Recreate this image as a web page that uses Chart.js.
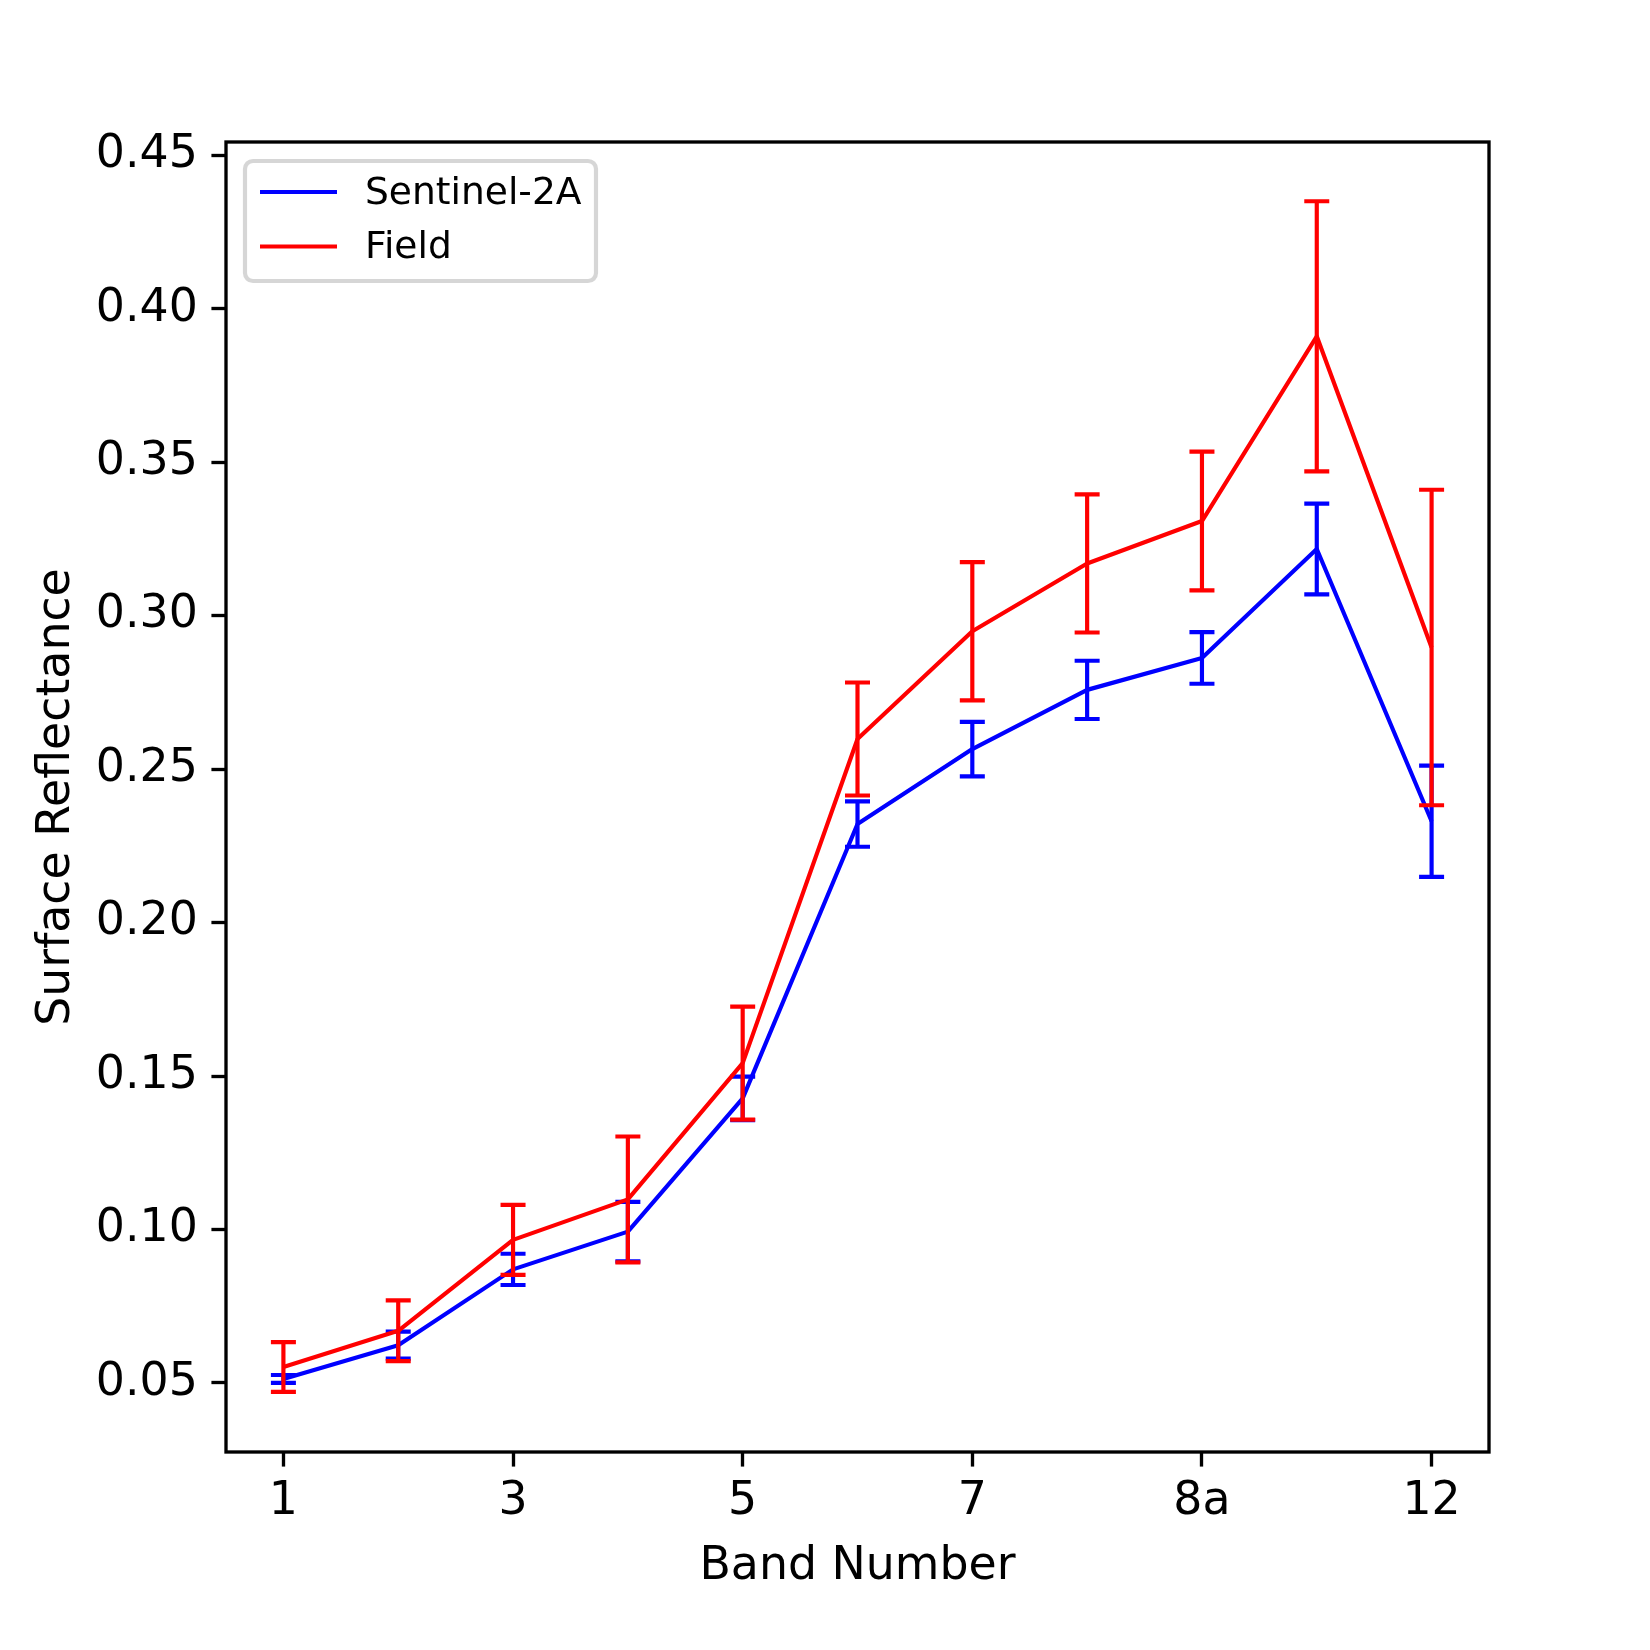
<!DOCTYPE html>
<html>
<head>
<meta charset="utf-8">
<script src="https://cdn.jsdelivr.net/npm/chart.js@4.4.1/dist/chart.umd.min.js"></script>
<style>
  html, body { margin: 0; padding: 0; background: #fff; }
  canvas { display: block; }
</style>
</head>
<body>
<canvas id="myChart" width="1650" height="1650"></canvas>
<script>
// band names along x, only every other one gets a label
var bands = ['1', '2', '3', '4', '5', '6', '7', '8', '8a', '11', '12'];
var xTickIdx = [0, 2, 4, 6, 8, 10];
var yTicks = [0.05, 0.10, 0.15, 0.20, 0.25, 0.30, 0.35, 0.40, 0.45];

var sentinel    = [0.0513, 0.0623, 0.0870, 0.0993, 0.1427, 0.2321, 0.2565, 0.2758, 0.2862, 0.3217, 0.2330];
var sentinelErr = [0.0013, 0.0044, 0.0051, 0.0097, 0.0071, 0.0074, 0.0089, 0.0095, 0.0084, 0.0148, 0.0181];
var field       = [0.0552, 0.0670, 0.0966, 0.1098, 0.1542, 0.2598, 0.2949, 0.3170, 0.3308, 0.3910, 0.2896];
var fieldErr    = [0.0081, 0.0099, 0.0114, 0.0205, 0.0184, 0.0184, 0.0225, 0.0225, 0.0226, 0.0440, 0.0514];

var yMin = 0.0275, yMax = 0.4543;

var PT = 300 / 72;
var FONT = 'DejaVu Sans';
var LABEL_SIZE = 45.8;
var LEGEND_SIZE = 37.6;

function pts(arr) {
    return arr.map(function (v, i) { return { x: i, y: v }; });
}

// vertical error bars with caps, drawn right after each dataset's line
var errorBars = {
    id: 'errorBars',
    afterDatasetDraw: function (chart, args) {
        var ds = chart.data.datasets[args.index];
        if (!ds.errors) return;
        var xs = chart.scales.x, ys = chart.scales.y;
        var c = chart.ctx;
        c.save();
        c.strokeStyle = ds.borderColor;
        c.lineWidth = 1 * PT;
        c.lineCap = 'butt';
        ds.data.forEach(function (p, i) {
            var px = xs.getPixelForValue(p.x);
            var top = ys.getPixelForValue(p.y + ds.errors[i]);
            var bot = ys.getPixelForValue(p.y - ds.errors[i]);
            c.beginPath();
            c.moveTo(px, top); c.lineTo(px, bot);
            c.moveTo(px - 3 * PT, top); c.lineTo(px + 3 * PT, top);
            c.moveTo(px - 3 * PT, bot); c.lineTo(px + 3 * PT, bot);
            c.stroke();
        });
        c.restore();
    }
};

// axes frame + legend box in the upper left
var frameAndLegend = {
    id: 'frameAndLegend',
    afterDatasetsDraw: function (chart) {
        var a = chart.chartArea;
        var c = chart.ctx;
        c.save();
        c.strokeStyle = '#000';
        c.lineWidth = 0.8 * PT;
        c.strokeRect(a.left, a.top, a.right - a.left, a.bottom - a.top);

        var lx = a.left + 19, ly = a.top + 19, lw = 351, lh = 120, r = 8;
        c.beginPath();
        c.moveTo(lx + r, ly);
        c.arcTo(lx + lw, ly, lx + lw, ly + lh, r);
        c.arcTo(lx + lw, ly + lh, lx, ly + lh, r);
        c.arcTo(lx, ly + lh, lx, ly, r);
        c.arcTo(lx, ly, lx + lw, ly, r);
        c.closePath();
        c.fillStyle = 'rgba(255,255,255,0.8)';
        c.fill();
        c.strokeStyle = 'rgba(204,204,204,0.8)';
        c.lineWidth = 1 * PT;
        c.stroke();

        c.font = LEGEND_SIZE + 'px "' + FONT + '"';
        c.textBaseline = 'middle';
        c.textAlign = 'left';
        chart.data.datasets.forEach(function (ds, i) {
            var rowY = ly + 31 + i * 54.5;
            c.strokeStyle = ds.borderColor;
            c.lineWidth = 1 * PT;
            c.beginPath();
            c.moveTo(lx + 15, rowY);
            c.lineTo(lx + 92, rowY);
            c.stroke();
            c.fillStyle = '#000';
            c.fillText(ds.label, lx + 120, rowY + 2);
        });
        c.restore();
    }
};

var ctx = document.getElementById('myChart').getContext('2d');
var myChart = new Chart(ctx, {
    type: 'line',
    data: {
        datasets: [{
            label: 'Sentinel-2A',
            data: pts(sentinel),
            errors: sentinelErr,
            borderColor: '#0000ff',
            borderWidth: 1 * PT,
            pointRadius: 0,
            fill: false,
            order: 2
        }, {
            label: 'Field',
            data: pts(field),
            errors: fieldErr,
            borderColor: '#ff0000',
            borderWidth: 1 * PT,
            pointRadius: 0,
            fill: false,
            order: 1
        }]
    },
    options: {
        responsive: false,
        animation: false,
        layout: { padding: { top: 142, right: 161, left: 0, bottom: 0 } },
        elements: { line: { tension: 0, borderJoinStyle: 'round' } },
        plugins: {
            legend: { display: false },
            tooltip: { enabled: false }
        },
        scales: {
            x: {
                type: 'linear',
                min: -0.5,
                max: 10.5,
                afterBuildTicks: function (scale) {
                    scale.ticks = xTickIdx.map(function (v) { return { value: v }; });
                },
                afterFit: function (scale) {
                    scale.height = 198;
                    scale.paddingLeft = 0;
                    scale.paddingRight = 0;
                },
                ticks: {
                    autoSkip: false,
                    maxRotation: 0,
                    padding: 8.5,
                    color: '#000',
                    font: { family: FONT, size: LABEL_SIZE },
                    callback: function (v) { return bands[v]; }
                },
                grid: {
                    drawOnChartArea: false,
                    drawTicks: true,
                    tickLength: 3.5 * PT,
                    tickWidth: 0.8 * PT,
                    tickColor: '#000'
                },
                border: { display: false },
                title: {
                    display: true,
                    text: 'Band Number',
                    color: '#000',
                    font: { family: FONT, size: LABEL_SIZE },
                    padding: { top: 0, bottom: 55 }
                }
            },
            y: {
                min: yMin,
                max: yMax,
                afterBuildTicks: function (scale) {
                    scale.ticks = yTicks.map(function (v) { return { value: v }; });
                },
                afterFit: function (scale) {
                    scale.width = 226;
                    scale.paddingTop = 0;
                    scale.paddingBottom = 0;
                },
                ticks: {
                    padding: 3.5 * PT - 1,
                    color: '#000',
                    font: { family: FONT, size: LABEL_SIZE },
                    callback: function (v) { return v.toFixed(2); }
                },
                grid: {
                    drawOnChartArea: false,
                    drawTicks: true,
                    tickLength: 3.5 * PT,
                    tickWidth: 0.8 * PT,
                    tickColor: '#000'
                },
                border: { display: false },
                title: {
                    display: true,
                    text: 'Surface Reflectance',
                    color: '#000',
                    font: { family: FONT, size: LABEL_SIZE },
                    padding: { top: 30, bottom: 0 }
                }
            }
        }
    },
    plugins: [errorBars, frameAndLegend]
});
</script>
</body>
</html>
